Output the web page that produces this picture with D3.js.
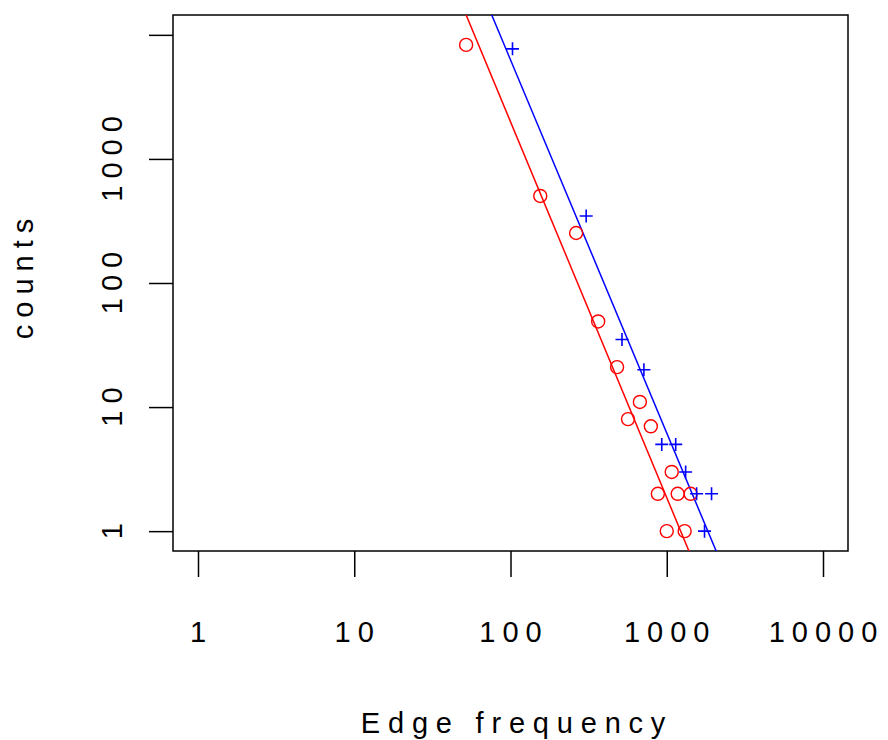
<!DOCTYPE html>
<html>
<head>
<meta charset="utf-8">
<script src="https://cdn.jsdelivr.net/npm/d3@7"></script>
<style>
  body { margin: 0; background: #fff; }
  text { font-family: "Liberation Sans", Arial, sans-serif; }
</style>
</head>
<body>
<div id="chart"></div>
<script>
// edge frequency vs counts, two sets (red circles, blue crosses)
const redFreq   = [52, 155, 263, 364, 481, 565, 673, 791, 1076, 877, 1175, 1422, 1000, 1302];
const redCount  = [8300, 503, 253, 49, 21, 8, 11, 7, 3, 2, 2, 2, 1, 1];
const blueFreq  = [103, 305, 517, 714, 929, 1141, 1321, 1553, 1935, 1745];
const blueCount = [7710, 347, 35, 20, 5, 5, 3, 2, 2, 1];

// fitted lines in log10 space: [intercept, slope]
const redFit  = [9.36, -3.03];
const blueFit = [9.815, -3.008];

const xTicks = [1, 10, 100, 1000, 10000];
const xLabels = ["1", "10", "100", "1000", "10000"];
const yTicks = [1, 10, 100, 1000, 10000];
const yLabels = ["1", "10", "100", "1000", ""];

const W = 888, H = 740;
const box = {left: 173, right: 848, top: 15, bottom: 551};
const fs = 29, ls = 7;

const svg = d3.select("#chart").append("svg")
    .attr("width", W)
    .attr("height", H);

// R style: limits 1..10000 padded 4% on each side (log scale)
const x = d3.scaleLog()
    .domain([Math.pow(10, -0.16), Math.pow(10, 4.16)])
    .range([box.left, box.right]);
const y = d3.scaleLog()
    .domain([Math.pow(10, -0.16), Math.pow(10, 4.16)])
    .range([box.bottom, box.top]);

// clip for fit lines
svg.append("clipPath").attr("id", "plotclip")
  .append("rect")
    .attr("x", box.left).attr("y", box.top)
    .attr("width", box.right - box.left)
    .attr("height", box.bottom - box.top);

// x axis ticks
const xAxis = svg.append("g")
    .attr("transform", `translate(0,${box.bottom})`)
    .call(d3.axisBottom(x).tickValues(xTicks).tickSize(26).tickFormat(""));
xAxis.select(".domain").remove();
xAxis.selectAll(".tick line").attr("stroke", "#000").attr("stroke-width", 1.5);

svg.append("g").selectAll("text")
    .data(xTicks)
    .join("text")
    .attr("x", d => x(d))
    .attr("y", 642)
    .attr("dx", ls / 2)
    .attr("text-anchor", "middle")
    .style("font-size", fs + "px")
    .style("letter-spacing", ls + "px")
    .text((d, i) => xLabels[i]);

// y axis ticks
const yAxis = svg.append("g")
    .attr("transform", `translate(${box.left},0)`)
    .call(d3.axisLeft(y).tickValues(yTicks).tickSize(24).tickFormat(""));
yAxis.select(".domain").remove();
yAxis.selectAll(".tick line").attr("stroke", "#000").attr("stroke-width", 1.5);

svg.append("g").selectAll("text")
    .data(yTicks)
    .join("text")
    .attr("transform", d => `translate(122,${y(d)}) rotate(-90)`)
    .attr("dx", ls / 2)
    .attr("text-anchor", "middle")
    .style("font-size", fs + "px")
    .style("letter-spacing", ls + "px")
    .text((d, i) => yLabels[i]);

// plot box
svg.append("rect")
    .attr("x", box.left).attr("y", box.top)
    .attr("width", box.right - box.left)
    .attr("height", box.bottom - box.top)
    .attr("fill", "none")
    .attr("stroke", "#000")
    .attr("stroke-width", 1.5);

// axis titles
svg.append("text")
    .attr("x", (box.left + box.right) / 2 + 3)
    .attr("y", 733)
    .attr("dx", ls / 2)
    .attr("text-anchor", "middle")
    .style("font-size", fs + "px")
    .style("letter-spacing", "7.8px")
    .text("Edge frequency");

svg.append("text")
    .attr("transform", `translate(33,${(box.top + box.bottom) / 2 - 4}) rotate(-90)`)
    .attr("dx", ls / 2)
    .attr("text-anchor", "middle")
    .style("font-size", fs + "px")
    .style("letter-spacing", ls + "px")
    .text("counts");

// fit lines
function fitLine(fit, color) {
  const xs = x.domain();
  const pts = xs.map(v => [v, Math.pow(10, fit[0] + fit[1] * Math.log10(v))]);
  svg.append("path")
      .datum(pts)
      .attr("clip-path", "url(#plotclip)")
      .attr("fill", "none")
      .attr("stroke", color)
      .attr("stroke-width", 1.5)
      .attr("d", d3.line().x(d => x(d[0])).y(d => y(d[1])));
}
fitLine(redFit, "#ff0000");
fitLine(blueFit, "#0000ff");

// red circles
svg.append("g").selectAll("circle")
    .data(redFreq.map((f, i) => ({f: f, c: redCount[i]})))
    .join("circle")
    .attr("cx", d => x(d.f))
    .attr("cy", d => y(d.c))
    .attr("r", 6.5)
    .attr("fill", "none")
    .attr("stroke", "#ff0000")
    .attr("stroke-width", 1.4);

// blue crosses
const cross = 6.5;
svg.append("g").selectAll("path")
    .data(blueFreq.map((f, i) => ({f: f, c: blueCount[i]})))
    .join("path")
    .attr("d", d => {
      const px = x(d.f), py = y(d.c);
      return `M${px - cross},${py}H${px + cross}M${px},${py - cross}V${py + cross}`;
    })
    .attr("stroke", "#0000ff")
    .attr("stroke-width", 1.6);
</script>
</body>
</html>
